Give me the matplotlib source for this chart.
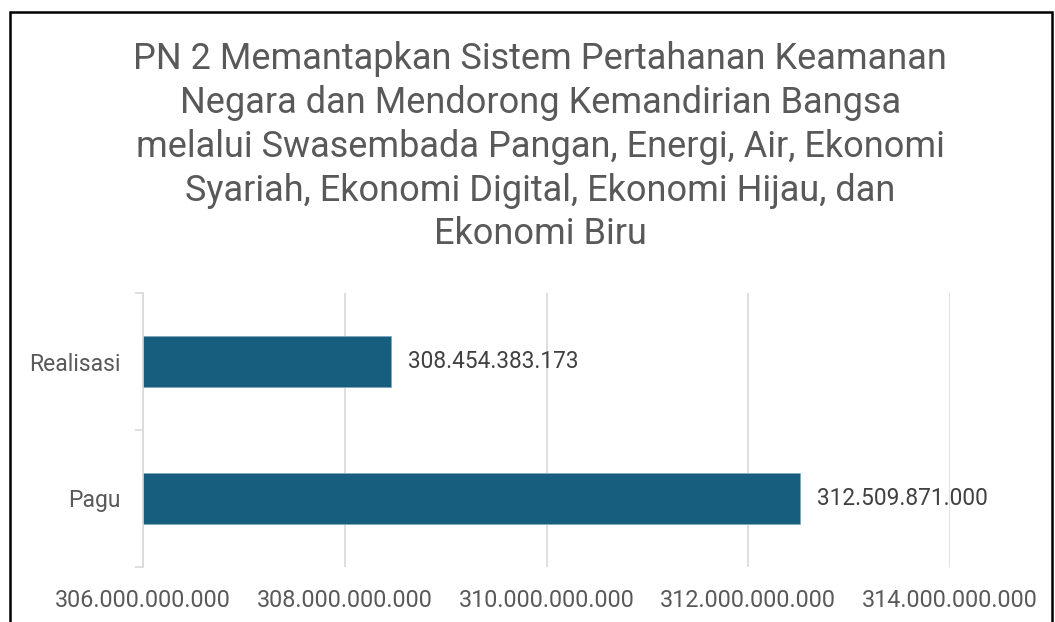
import matplotlib.pyplot as plt
from matplotlib.patches import Rectangle
from matplotlib.ticker import FuncFormatter, FixedLocator

plt.rcParams["font.family"] = ["Roboto", "DejaVu Sans"]

TITLE = ("PN 2 Memantapkan Sistem Pertahanan Keamanan\n"
         "Negara dan Mendorong Kemandirian Bangsa\n"
         "melalui Swasembada Pangan, Energi, Air, Ekonomi\n"
         "Syariah, Ekonomi Digital, Ekonomi Hijau, dan\n"
         "Ekonomi Biru")
categories = ["Pagu", "Realisasi"]
values = [312509871000, 308454383173]
x_ticks = [306e9, 308e9, 310e9, 312e9, 314e9]

BAR = "#175e7e"
TEXT = "#595959"
GRID = "#d9d9d9"


def dots(v, pos=None):
    return f"{int(round(v)):,}".replace(",", ".")


fig = plt.figure(figsize=(10.55, 6.22), dpi=100)
ax = fig.add_axes([143 / 1055, 1 - 567 / 622, (950 - 143) / 1055, (567 - 293) / 622])

ypos = list(range(len(categories)))
ax.barh(ypos, values, height=0.37, left=0, color=BAR, zorder=2,
        edgecolor="#7fa9bf", linewidth=0.6)
ax.set_xlim(x_ticks[0], x_ticks[-1])
ax.set_ylim(-0.5, len(categories) - 0.5)

ax.xaxis.set_major_locator(FixedLocator(x_ticks))
ax.xaxis.set_major_formatter(FuncFormatter(dots))
ax.tick_params(axis="x", length=0, labelsize=16.8, labelcolor=TEXT, pad=16)
ax.grid(axis="x", color=GRID, linewidth=1.2, zorder=0)

ax.set_yticks(ypos)
ax.set_yticklabels(categories)
ax.tick_params(axis="y", which="major", length=0, labelsize=16.5, labelcolor=TEXT, pad=16)
ax.set_yticks([-0.5, 0.5, 1.5], minor=True)
ax.tick_params(axis="y", which="minor", length=6, color=GRID, width=1.2)

for s in ["top", "right", "bottom"]:
    ax.spines[s].set_visible(False)
ax.spines["left"].set_color(GRID)
ax.spines["left"].set_linewidth(1.2)

for y, v in zip(ypos, values):
    ax.text(v + 0.17e9, y, dots(v), va="center", ha="left", fontsize=16.3,
            color="#404040", zorder=3)

fig.text(0.512, 1 - 41 / 622, TITLE, ha="center", va="top", fontsize=26,
         color=TEXT, linespacing=1.28)

fig.patches.append(Rectangle((9.5 / 1055, -0.1), (1052 - 9.5) / 1055, 1.1 - 12 / 622,
                             transform=fig.transFigure, fill=False,
                             edgecolor="black", linewidth=1.8, clip_on=False))

fig.savefig("out.png", dpi=100)
